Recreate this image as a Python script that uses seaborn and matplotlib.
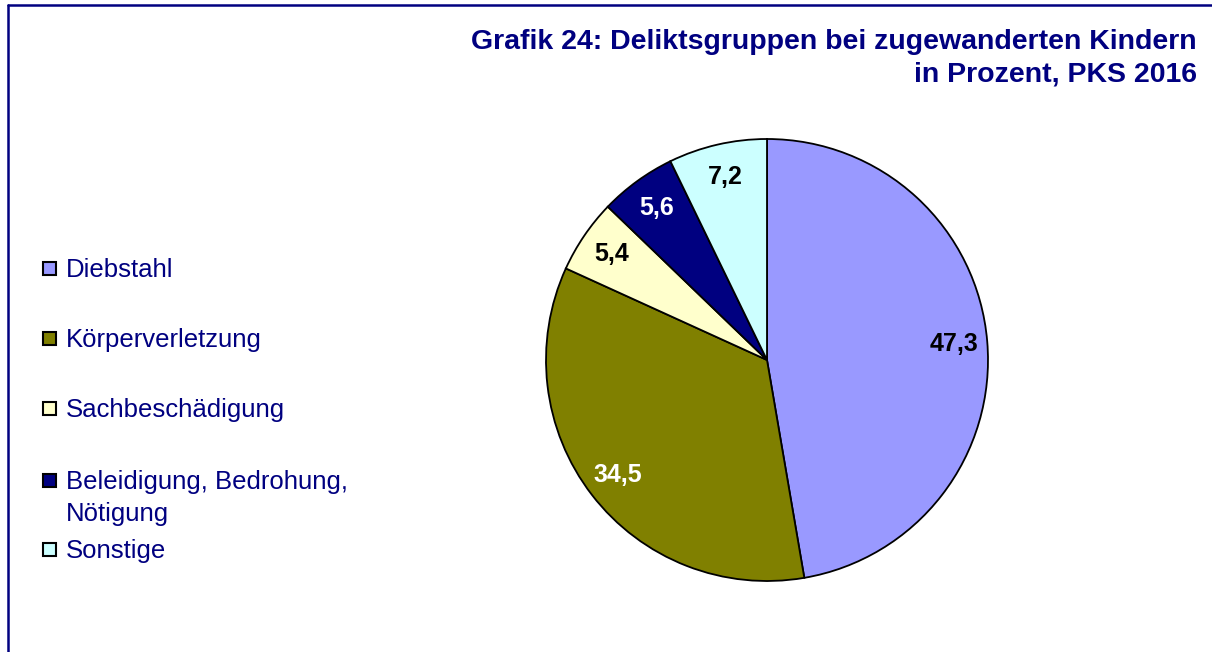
import matplotlib.pyplot as plt
import seaborn as sns
from matplotlib.lines import Line2D
from matplotlib.patches import Rectangle

categories = [
    "Diebstahl",
    "Körperverletzung",
    "Sachbeschädigung",
    "Beleidigung, Bedrohung,\nNötigung",
    "Sonstige",
]
values = [47.3, 34.5, 5.4, 5.6, 7.2]
colors = ["#9999FF", "#808000", "#FFFFCC", "#000080", "#CCFFFF"]
label_colors = ["black", "white", "black", "white", "black"]

NAVY = "#000080"

sns.set_theme(style="white")
plt.rcParams["font.family"] = ["Liberation Sans", "DejaVu Sans"]

W, H = 1212, 652
fig = plt.figure(figsize=(W / 100, H / 100), dpi=100)

# pie centre and radius in pixels
cx, cy, r = 767, 360, 221
ax = fig.add_axes([(cx - r) / W, (H - cy - r) / H, 2 * r / W, 2 * r / H])
wedges, texts, autotexts = ax.pie(
    values,
    colors=sns.color_palette(colors),
    startangle=90,
    counterclock=False,
    autopct=lambda p: f"{p:.1f}".replace(".", ","),
    pctdistance=0.85,
    wedgeprops={"edgecolor": "black", "linewidth": 1.3},
    textprops={"fontsize": 18, "fontweight": "bold"},
)
for t, c in zip(autotexts, label_colors):
    t.set_color(c)
ax.set_xlim(-1, 1)
ax.set_ylim(-1, 1)
ax.set_aspect("equal")
ax.axis("off")

# title
fig.text(1197 / W, 1 - 42 / H, "Grafik 24: Deliktsgruppen bei zugewanderten Kindern",
         ha="right", va="center", fontsize=20.5, fontweight="bold", color=NAVY)
fig.text(1197 / W, 1 - 75 / H, "in Prozent, PKS 2016",
         ha="right", va="center", fontsize=20.5, fontweight="bold", color=NAVY)

# legend
row_y = [268, 338, 408, 480, 549]
line_pitch = 32
for label, col, y in zip(categories, colors, row_y):
    fig.add_artist(Rectangle((43 / W, 1 - (y + 7) / H), 13 / W, 13 / H,
                             transform=fig.transFigure, facecolor=col,
                             edgecolor="black", linewidth=1.5))
    for i, line in enumerate(label.split("\n")):
        fig.text(66 / W, 1 - (y + 9 + i * line_pitch) / H, line, ha="left",
                 va="baseline", fontsize=18.5, color=NAVY)

# frame (top and left edges visible)
fig.add_artist(Line2D([8 / W, 1.01], [1 - 5 / H, 1 - 5 / H], transform=fig.transFigure,
                      color=NAVY, linewidth=1.8))
fig.add_artist(Line2D([8 / W, 8 / W], [1 - 5 / H, -0.01], transform=fig.transFigure,
                      color=NAVY, linewidth=1.8))

fig.savefig("out.png", dpi=100)
plt.close(fig)
